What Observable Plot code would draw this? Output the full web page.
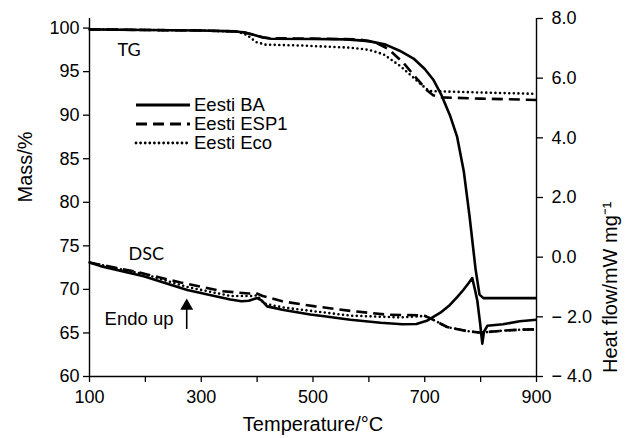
<!DOCTYPE html>
<html>
<head>
<meta charset="utf-8">
<script src="https://cdn.jsdelivr.net/npm/d3@7"></script>
<script src="https://cdn.jsdelivr.net/npm/@observablehq/plot@0.6"></script>
<style>
  body { margin: 0; background: #fff; }
  #wrap { position: relative; width: 636px; height: 438px; }
  #legend { position: absolute; left: 0; top: 0; pointer-events: none; }
</style>
</head>
<body>
<div id="wrap"></div>
<script>
// ---- tick values / labels ----
const xTicks = [100, 200, 300, 400, 500, 600, 700, 800, 900];
const xLabels = [100, 300, 500, 700, 900];
const massTicks = [60, 65, 70, 75, 80, 85, 90, 95, 100];
const heatTicks = [-4, -2, 0, 2, 4, 6, 8];
const seriesNames = ["Eesti BA", "Eesti ESP1", "Eesti Eco"];

// ---- TG curves: [temperature °C, mass %] ----
const tgBA = [[100,99.85],[200,99.78],[300,99.72],[360,99.62],[378,99.5],[395,99.2],[410,98.92],[425,98.78],[500,98.75],[560,98.7],[600,98.5],[630,98.1],[655,97.4],[680,96.5],[700,95.3],[715,94.1],[730,92.3],[745,90.0],[758,87.5],[770,83.5],[780,78.5],[791,72.3],[798,69.4],[805,69.0],[850,69.0],[900,69.0]];
const tgESP1 = [[100,99.85],[300,99.72],[370,99.6],[390,99.3],[410,98.95],[425,98.82],[500,98.8],[580,98.7],[610,98.4],[635,97.6],[662,96.0],[687,94.1],[705,92.8],[715,92.3],[730,92.05],[800,91.9],[900,91.75]];
const tgEco = [[100,99.85],[300,99.72],[365,99.6],[382,99.2],[398,98.4],[415,98.1],[478,98.0],[567,97.75],[600,97.5],[626,97.0],[657,95.6],[687,93.9],[707,92.8],[720,92.75],[800,92.6],[900,92.45]];

// ---- DSC curves: [temperature °C, heat flow mW/mg] ----
const dscBA = [[100,-0.18],[120,-0.3],[197,-0.64],[275,-1.1],[352,-1.42],[372,-1.48],[385,-1.46],[400,-1.37],[408,-1.45],[418,-1.65],[445,-1.76],[495,-1.92],[520,-1.98],[567,-2.1],[621,-2.2],[660,-2.25],[685,-2.24],[705,-2.12],[728,-1.86],[745,-1.6],[758,-1.34],[769,-1.1],[778,-0.88],[785,-0.7],[790,-1.1],[794,-1.45],[799,-2.2],[803,-2.9],[806,-2.5],[812,-2.3],[840,-2.25],[870,-2.15],[900,-2.1]];
const dscESP1 = [[100,-0.18],[186,-0.5],[263,-0.85],[338,-1.14],[385,-1.22],[397,-1.2],[410,-1.3],[445,-1.48],[504,-1.65],[567,-1.8],[633,-1.93],[698,-1.95],[710,-2.05],[740,-2.34],[776,-2.48],[800,-2.53],[836,-2.47],[870,-2.43],[900,-2.42]];
const dscEco = [[100,-0.18],[200,-0.58],[275,-1.0],[352,-1.3],[390,-1.3],[400,-1.28],[412,-1.55],[445,-1.68],[478,-1.76],[567,-1.96],[657,-2.02],[700,-1.97],[710,-2.05],[740,-2.34],[776,-2.48],[800,-2.53],[836,-2.47],[870,-2.43],[900,-2.42]];

// ---- annotations (data coordinates, mass axis) ----
const annotations = [{text: "TG", x: 150, y: 97.5}, {text: "DSC", x: 170, y: 74.0}];
const endoLabels = [{text: "Endo up", x: 127, y: 66.6}];
const endoArrows = [{x: 274, y1: 65.4, y2: 67.8, head: 68.1}];

// ---- scales ----
const massDomain = [60, 101.1];
const heatDomain = [-4, 8];
const toMass = h => massDomain[0] + (h - heatDomain[0]) / (heatDomain[1] - heatDomain[0]) * (massDomain[1] - massDomain[0]);
const toHeat = m => heatDomain[0] + (m - massDomain[0]) / (massDomain[1] - massDomain[0]) * (heatDomain[1] - heatDomain[0]);
const fmtHeat = h => { const r = Math.round(h * 10) / 10; return r < 0 ? "\u2212 " + Math.abs(r).toFixed(1) : Math.abs(r).toFixed(1); };

const FONT = "'Liberation Sans', Arial, sans-serif";
const solid = {stroke: "black", strokeWidth: 2.6, strokeLinecap: "butt"};
const dashed = {stroke: "black", strokeWidth: 2.6, strokeDasharray: "11,6", strokeLinecap: "butt"};
const dotted = {stroke: "black", strokeWidth: 2.6, strokeDasharray: "0,4.6", strokeLinecap: "round"};
const px = {x: d => d[0], y: d => d[1]};
const pxH = {x: d => d[0], y: d => toMass(d[1])};

const chart = Plot.plot({
  width: 636, height: 438,
  marginLeft: 89, marginRight: 100, marginTop: 18, marginBottom: 62,
  x: {domain: [100, 900]},
  y: {domain: massDomain},
  style: {fontFamily: FONT, fontSize: "18px", color: "black", background: "white"},
  marks: [
    Plot.axisX(xTicks, {tickSize: 6, tickPadding: 8, strokeWidth: 1.3, tickFormat: d => xLabels.includes(d) ? String(d) : "", label: null, fontSize: 18}),
    Plot.axisY(massTicks, {anchor: "left", tickSize: 6, tickPadding: 4, strokeWidth: 1.3, label: null, fontSize: 18}),
    Plot.axisY(heatTicks.map(toMass), {anchor: "right", tickSize: 6, tickPadding: 9, strokeWidth: 1.3, tickFormat: d => fmtHeat(toHeat(d)), label: null, fontSize: 18}),
    Plot.ruleX([100, 900], {stroke: "black", strokeWidth: 1.4}),
    Plot.ruleY([60], {stroke: "black", strokeWidth: 1.4}),
    Plot.line(tgEco, {...px, ...dotted}),
    Plot.line(tgESP1, {...px, ...dashed}),
    Plot.line(tgBA, {...px, ...solid}),
    Plot.line(dscEco, {...pxH, ...dotted}),
    Plot.line(dscESP1, {...pxH, ...dashed}),
    Plot.line(dscBA, {...pxH, ...solid}),
    Plot.text(annotations, {x: "x", y: "y", text: "text", textAnchor: "start", fontFamily: "Lato, 'Open Sans', sans-serif", fontSize: 18, fill: "black"}),
    Plot.text(endoLabels, {x: "x", y: "y", text: "text", textAnchor: "start", fontFamily: FONT, fontSize: 18.5, fill: "black"}),
    Plot.ruleX(endoArrows, {x: "x", y1: "y1", y2: "y2", stroke: "black", strokeWidth: 1.6}),
    Plot.dot(endoArrows, {x: "x", y: "head", symbol: "triangle", r: 4.8, fill: "black", stroke: "none"}),
    Plot.text(["Temperature/°C"], {frameAnchor: "bottom", dy: 54, fontFamily: FONT, fontSize: 20, fill: "black"}),
    Plot.text(["Mass/%"], {frameAnchor: "left", rotate: -90, dx: -64, dy: 5, fontFamily: FONT, fontSize: 20, fill: "black"}),
    Plot.text(["Heat flow/mW mg\u207B\u00B9"], {frameAnchor: "right", rotate: -90, dx: 74, dy: 4, fontFamily: FONT, fontSize: 20, fill: "black"})
  ]
});

const wrap = document.getElementById("wrap");
wrap.appendChild(chart);

// ---- legend overlay ----
const legendStyles = [
  {dash: null, cap: "butt"},
  {dash: "11,6", cap: "butt"},
  {dash: "0,4.6", cap: "round"}
];
const leg = d3.select(wrap).append("svg").attr("id", "legend").attr("width", 636).attr("height", 438);
const rowY = [105, 124, 143];
seriesNames.forEach((name, i) => {
  leg.append("line").attr("x1", 136).attr("x2", 190).attr("y1", rowY[i]).attr("y2", rowY[i])
    .attr("stroke", "black").attr("stroke-width", 2.8)
    .attr("stroke-dasharray", legendStyles[i].dash).attr("stroke-linecap", legendStyles[i].cap);
  leg.append("text").attr("x", 194).attr("y", rowY[i]).attr("dy", "0.35em")
    .attr("font-family", FONT).attr("font-size", 18.5).attr("fill", "black").text(name);
});
</script>
</body>
</html>
